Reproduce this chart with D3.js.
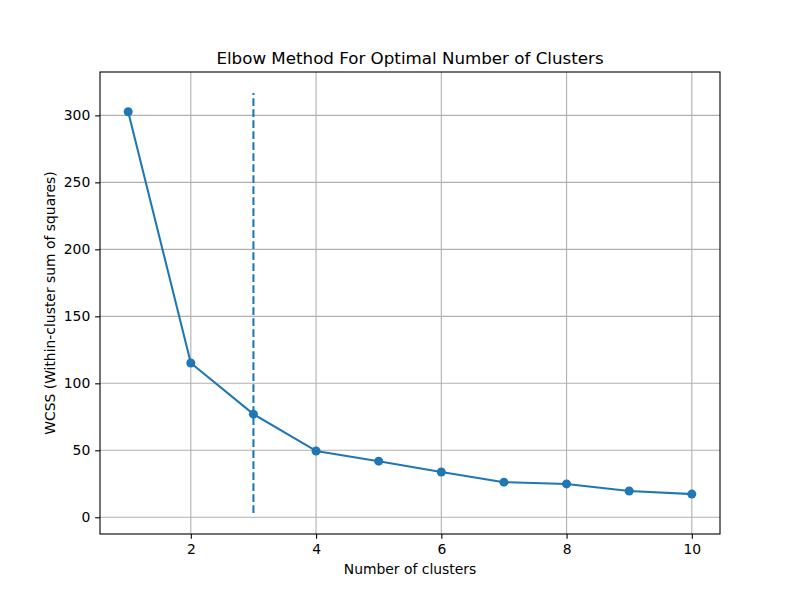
<!DOCTYPE html>
<html>
<head>
<meta charset="utf-8">
<script src="https://cdn.jsdelivr.net/npm/d3@7"></script>
<style>
  html, body { margin: 0; padding: 0; background: #fff; }
  svg { display: block; }
  text { font-family: "DejaVu Sans", sans-serif; fill: #000; }
</style>
</head>
<body>
<svg id="chart" width="800" height="600"></svg>
<script>
const clusters = [1, 2, 3, 4, 5, 6, 7, 8, 9, 10];
const wcss = [302.7, 115.2, 77.0, 49.5, 41.9, 33.8, 26.2, 24.9, 19.6, 17.3];
const elbowK = 3;
const elbowRange = [3.2, 316.7];
const xTicks = [2, 4, 6, 8, 10];
const yTicks = [0, 50, 100, 150, 200, 250, 300];
const titleText = "Elbow Method For Optimal Number of Clusters";
const xLabelText = "Number of clusters";
const yLabelText = "WCSS (Within-cluster sum of squares)";

const W = 800, H = 600;
const L = 100, R = 720, T = 72, B = 534;
const color = "#1f77b4";

const svg = d3.select("#chart");

const xMin = d3.min(clusters), xMax = d3.max(clusters);
const xPad = (xMax - xMin) * 0.05;
const x = d3.scaleLinear().domain([xMin - xPad, xMax + xPad]).range([L, R]);

const yMin = Math.min(d3.min(wcss), elbowRange[0]);
const yMax = Math.max(d3.max(wcss), elbowRange[1]);
const yPad = (yMax - yMin) * 0.05;
const y = d3.scaleLinear().domain([yMin - yPad, yMax + yPad]).range([B, T]);

// grid
const grid = svg.append("g");
grid.selectAll(".gx").data(xTicks).enter().append("line")
  .attr("x1", d => x(d)).attr("x2", d => x(d))
  .attr("y1", T).attr("y2", B)
  .attr("stroke", "#b0b0b0").attr("stroke-width", 1.1);
grid.selectAll(".gy").data(yTicks).enter().append("line")
  .attr("x1", L).attr("x2", R)
  .attr("y1", d => y(d)).attr("y2", d => y(d))
  .attr("stroke", "#b0b0b0").attr("stroke-width", 1.1);

// elbow line
svg.append("line")
  .attr("x1", x(elbowK)).attr("x2", x(elbowK))
  .attr("y1", y(elbowRange[0])).attr("y2", y(elbowRange[1]))
  .attr("stroke", color).attr("stroke-width", 2.08)
  .attr("stroke-dasharray", "7.7,3.3");

// line
const line = d3.line().x((d, i) => x(clusters[i])).y(d => y(d));
svg.append("path").datum(wcss)
  .attr("d", line).attr("fill", "none")
  .attr("stroke", color).attr("stroke-width", 2.08)
  .attr("stroke-linejoin", "round").attr("stroke-linecap", "square");

svg.selectAll(".pt").data(wcss).enter().append("circle")
  .attr("cx", (d, i) => x(clusters[i])).attr("cy", d => y(d))
  .attr("r", 4.5).attr("fill", color);

// axes
const xAxis = d3.axisBottom(x).tickValues(xTicks).tickSize(4.86).tickPadding(4.9).tickFormat(d3.format("d"));
const yAxis = d3.axisLeft(y).tickValues(yTicks).tickSize(4.86).tickPadding(4.9).tickFormat(d3.format("d"));

const gx = svg.append("g").attr("transform", `translate(0,${B})`).call(xAxis);
const gy = svg.append("g").attr("transform", `translate(${L},0)`).call(yAxis);
[gx, gy].forEach(g => {
  g.select(".domain").remove();
  g.selectAll(".tick line").attr("stroke", "#000").attr("stroke-width", 1.1);
  g.selectAll(".tick text").attr("font-size", 13.9).attr("font-family", "DejaVu Sans, sans-serif").attr("fill", "#000");
});

// frame
svg.append("rect").attr("x", L).attr("y", T).attr("width", R - L).attr("height", B - T)
  .attr("fill", "none").attr("stroke", "#000").attr("stroke-width", 1.1);

// labels
svg.append("text").attr("x", (L + R) / 2).attr("y", 64)
  .attr("text-anchor", "middle").attr("font-size", 16.7).text(titleText);
svg.append("text").attr("x", (L + R) / 2).attr("y", 574)
  .attr("text-anchor", "middle").attr("font-size", 13.9).text(xLabelText);
svg.append("text").attr("transform", `translate(55,${(T + B) / 2}) rotate(-90)`)
  .attr("text-anchor", "middle").attr("font-size", 13.9).text(yLabelText);
</script>
</body>
</html>
